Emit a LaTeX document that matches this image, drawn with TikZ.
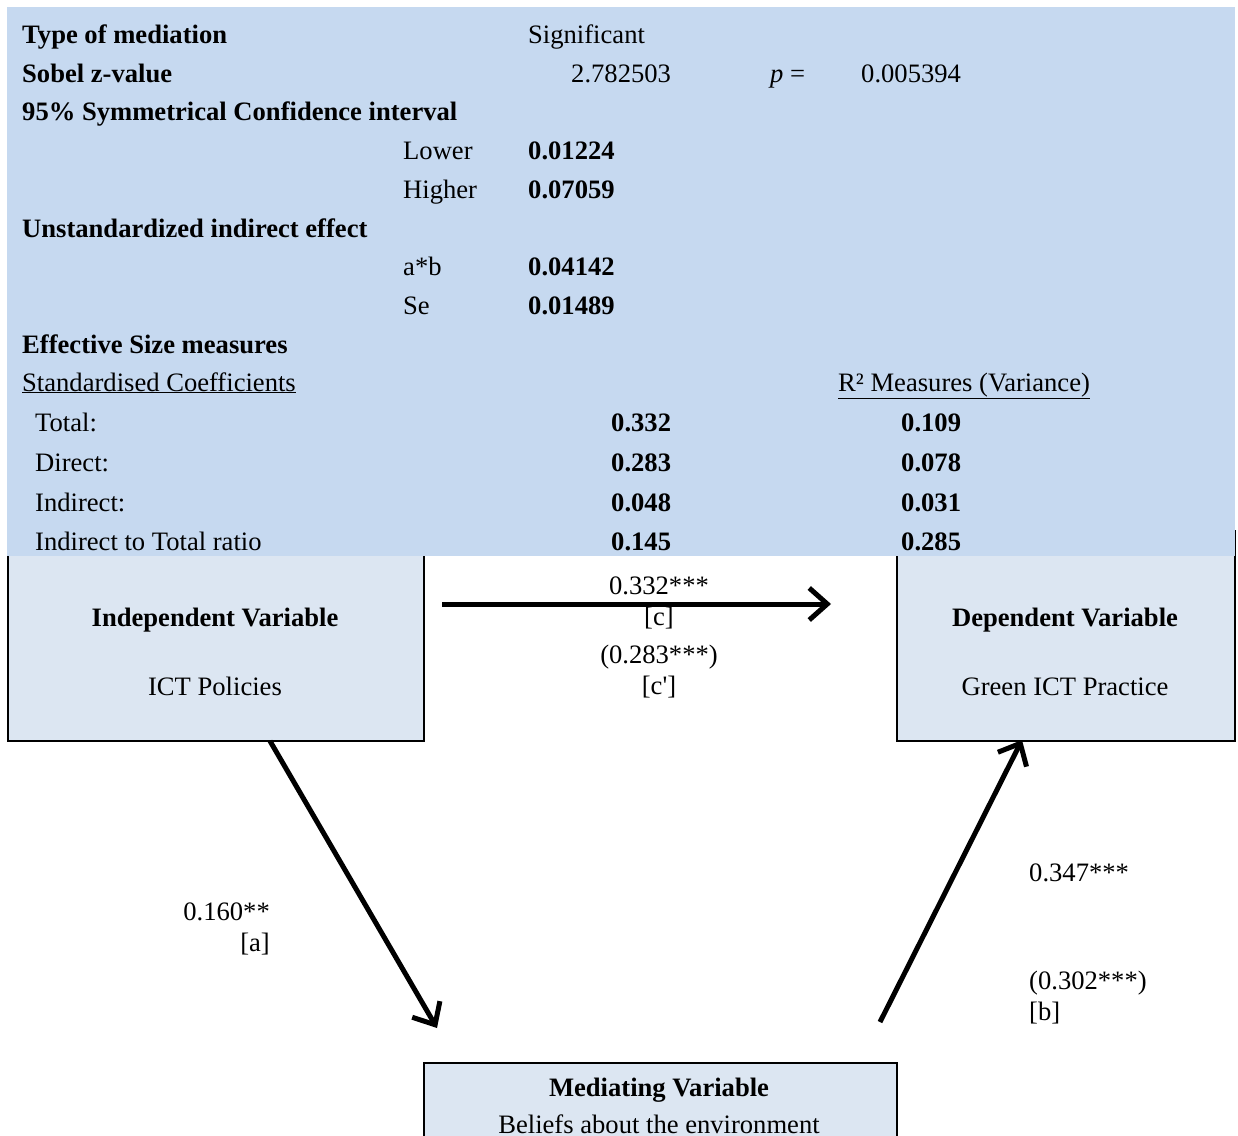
\documentclass[tikz,border=0pt]{standalone}
\usepackage{fontspec}
\setmainfont{Liberation Serif}
\usetikzlibrary{arrows.meta}
\definecolor{panelblue}{RGB}{198,217,240}
\definecolor{boxblue}{RGB}{220,230,242}

\begin{document}
\begin{tikzpicture}[x=1pt,y=-1pt,
  lbl/.style={inner sep=0pt, anchor=base west, font=\fontsize{26.6}{32}\selectfont},
  lblb/.style={inner sep=0pt, anchor=base west, font=\fontsize{26.6}{32}\selectfont\bfseries},
  lblc/.style={inner sep=0pt, anchor=base, font=\fontsize{26.6}{32}\selectfont},
  lblcb/.style={inner sep=0pt, anchor=base, font=\fontsize{26.6}{32}\selectfont\bfseries},
  lble/.style={inner sep=0pt, anchor=base east, font=\fontsize{26.6}{32}\selectfont},
  varbox/.style={draw=black, line width=2pt, fill=boxblue, inner sep=0pt, anchor=north west},
  effect/.style={line width=5pt, -{Straight Barb[length=18pt,width=32pt,line width=5pt]}}
]
\useasboundingbox (0,0) rectangle (1238,1135);

% variable boxes (the upper two run behind the results panel)
\node[varbox, minimum width=416pt, minimum height=210pt] (iv) at (7,530) {};
\node[varbox, minimum width=338pt, minimum height=210pt] (dv) at (896,530) {};
\node[varbox, minimum width=473pt, minimum height=80pt] (mv) at (423,1062) {};

% results panel
\fill[panelblue] (7,7) rectangle (1235,556);

% panel contents
\node[lblb] (t1) at (22,43) {Type of mediation};
\node[lbl]  (t1v) at (528,43) {Significant};
\node[lblb] (t2) at (22,82) {Sobel z-value};
\node[lbl]  (t2v) at (571,82) {2.782503};
\node[lbl]  (t2p) at (770,82) {\itshape p\upshape\ =};
\node[lbl]  (t2pv) at (861,82) {0.005394};
\node[lblb] (t3) at (22,120) {95\% Symmetrical Confidence interval};
\node[lbl]  (t4) at (403,159) {Lower};
\node[lblb] (t4v) at (528,159) {0.01224};
\node[lbl]  (t5) at (403,198) {Higher};
\node[lblb] (t5v) at (528,198) {0.07059};
\node[lblb] (t6) at (22,237) {Unstandardized indirect effect};
\node[lbl]  (t7) at (403,275) {a*b};
\node[lblb] (t7v) at (528,275) {0.04142};
\node[lbl]  (t8) at (403,314) {Se};
\node[lblb] (t8v) at (528,314) {0.01489};
\node[lblb] (t9) at (22,353) {Effective Size measures};
\node[lbl]  (t10) at (22,391) {\underline{Standardised Coefficients}};
\node[lbl]  (t10r) at (838,391) {\underline{R² Measures (Variance)}};
\node[lbl]  (t11) at (35,431) {Total:};
\node[lblb] (t11a) at (611,431) {0.332};
\node[lblb] (t11b) at (901,431) {0.109};
\node[lbl]  (t12) at (35,471) {Direct:};
\node[lblb] (t12a) at (611,471) {0.283};
\node[lblb] (t12b) at (901,471) {0.078};
\node[lbl]  (t13) at (35,511) {Indirect:};
\node[lblb] (t13a) at (611,511) {0.048};
\node[lblb] (t13b) at (901,511) {0.031};
\node[lbl]  (t14) at (35,550) {Indirect to Total ratio};
\node[lblb] (t14a) at (611,550) {0.145};
\node[lblb] (t14b) at (901,550) {0.285};

% box texts
\node[lblcb] (ivt) at (215,626) {Independent Variable};
\node[lblc]  (ivs) at (215,695) {ICT Policies};
\node[lblcb] (dvt) at (1065,626) {Dependent Variable};
\node[lblc]  (dvs) at (1065,695) {Green ICT Practice};
\node[lblcb] (mvt) at (659,1096) {Mediating Variable};
\node[lblc]  (mvs) at (659,1133) {Beliefs about the environment};

% path end points
\coordinate (cstart) at (442,604);
\coordinate (cend) at (831,604);
\coordinate (astart) at (270,741);
\coordinate (aend) at (437,1028);
\coordinate (bstart) at (880,1022);
\coordinate (bend) at (1022,740);

\draw[effect] (cstart) -- (cend);
\draw[effect] (astart) -- (aend);
\draw[effect] (bstart) -- (bend);

% path coefficients
\node[lblc] (c1) at (659,594) {0.332***};
\node[lblc] (c2) at (659,625) {[c]};
\node[lblc] (c3) at (659,663) {(0.283***)};
\node[lblc] (c4) at (659,694) {[c\textquotesingle]};
\node[lble] (a1) at (270,920) {0.160**};
\node[lble] (a2) at (270,951) {[a]};
\node[lbl]  (b1) at (1029,881) {0.347***};
\node[lbl]  (b2) at (1029,989) {(0.302***)};
\node[lbl]  (b3) at (1029,1020) {[b]};
\end{tikzpicture}
\end{document}
